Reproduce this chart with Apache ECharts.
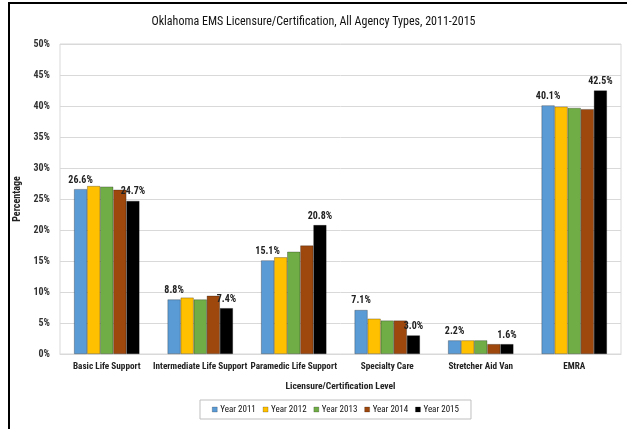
<!DOCTYPE html>
<html>
<head>
<meta charset="utf-8">
<script src="https://cdn.jsdelivr.net/npm/echarts@6/dist/echarts.min.js"></script>
<style>
    html, body { margin: 0; padding: 0; background: #fff; }
    #main { width: 627px; height: 429px; }
</style>
</head>
<body>
<div id="main"></div>
<script>
var FONT = "'Liberation Sans Narrow', 'Arial Narrow', 'Roboto Condensed', 'Liberation Sans', sans-serif";

var categories = ['Basic Life Support', 'Intermediate Life Support', 'Paramedic Life Support', 'Specialty Care', 'Stretcher Aid Van', 'EMRA'];
var years = ['Year 2011', 'Year 2012', 'Year 2013', 'Year 2014', 'Year 2015'];
var colors = ['#5b9bd5', '#ffc000', '#70ad47', '#9e480e', '#000000'];

var y2011 = [26.6, 8.8, 15.1, 7.1, 2.2, 40.1];
var y2012 = [27.1, 9.1, 15.6, 5.7, 2.2, 39.9];
var y2013 = [27.0, 8.8, 16.5, 5.4, 2.2, 39.7];
var y2014 = [26.5, 9.4, 17.5, 5.4, 1.6, 39.5];
var y2015 = [24.7, 7.4, 20.8, 3.0, 1.6, 42.5];

var yTicks = [0, 5, 10, 15, 20, 25, 30, 35, 40, 45, 50];

var seriesData = [y2011, y2012, y2013, y2014, y2015];
// only first and last year carry a label
var labelled = [true, false, false, false, true];

var series = [];
for (var i = 0; i < years.length; i++) {
    series.push({
        name: years[i],
        type: 'bar',
        barGap: '0%',
        barCategoryGap: '30%',
        itemStyle: {
            color: colors[i],
            borderColor: 'rgba(0,0,0,0.45)',
            borderWidth: 0.6
        },
        label: {
            show: labelled[i],
            position: 'top',
            distance: 4,
            fontFamily: FONT,
            fontSize: 10,
            fontWeight: 'bold',
            color: '#222',
            formatter: function (p) {
                return p.value.toFixed(1) + '%';
            }
        },
        data: seriesData[i]
    });
}

var myChart = echarts.init(document.getElementById('main'));
var option = {
    animation: false,
    backgroundColor: '#fff',
    textStyle: { fontFamily: FONT },
    title: {
        text: 'Oklahoma EMS Licensure/Certification, All Agency Types, 2011-2015',
        left: 'center',
        top: 11,
        textStyle: {
            fontFamily: FONT,
            fontSize: 12,
            fontWeight: 'normal',
            color: '#111'
        }
    },
    legend: {
        data: years,
        left: 200,
        top: 400,
        itemWidth: 5,
        itemHeight: 5,
        itemGap: 7,
        padding: [5, 12, 5, 12],
        borderColor: '#bfbfbf',
        borderWidth: 1,
        icon: 'rect',
        itemStyle: { borderColor: 'rgba(0,0,0,0.4)', borderWidth: 0.5 },
        textStyle: {
            fontFamily: FONT,
            fontSize: 9,
            color: '#111',
            padding: [0, 0, 0, -2]
        }
    },
    grid: {
        left: 60,
        right: 6,
        top: 44,
        bottom: 75,
        show: true,
        borderColor: '#d9d9d9',
        borderWidth: 1
    },
    xAxis: {
        type: 'category',
        data: categories,
        name: 'Licensure/Certification Level',
        nameLocation: 'middle',
        nameGap: 28,
        nameTextStyle: {
            fontFamily: FONT,
            fontSize: 9.5,
            fontWeight: 'bold',
            color: '#222'
        },
        axisTick: { show: false },
        axisLine: { lineStyle: { color: '#d9d9d9' } },
        axisLabel: {
            interval: 0,
            margin: 8,
            fontFamily: FONT,
            fontSize: 9.2,
            fontWeight: 'bold',
            color: '#222'
        }
    },
    yAxis: {
        type: 'value',
        min: yTicks[0],
        max: yTicks[yTicks.length - 1],
        interval: 5,
        name: 'Percentage',
        nameLocation: 'middle',
        nameGap: 38,
        nameTextStyle: {
            fontFamily: FONT,
            fontSize: 10,
            fontWeight: 'bold',
            color: '#222'
        },
        axisLine: { show: false },
        axisTick: { show: false },
        splitLine: { lineStyle: { color: '#d9d9d9' } },
        axisLabel: {
            margin: 10,
            fontFamily: FONT,
            fontSize: 10,
            fontWeight: 'bold',
            color: '#333',
            formatter: '{value}%'
        }
    },
    graphic: [
        {
            type: 'line',
            shape: { x1: 8, y1: 3, x2: 627, y2: 3 },
            style: { stroke: '#000', lineWidth: 2 }
        },
        {
            type: 'line',
            shape: { x1: 9, y1: 3, x2: 9, y2: 429 },
            style: { stroke: '#000', lineWidth: 2 }
        }
    ],
    series: series
};
myChart.setOption(option);
</script>
</body>
</html>
